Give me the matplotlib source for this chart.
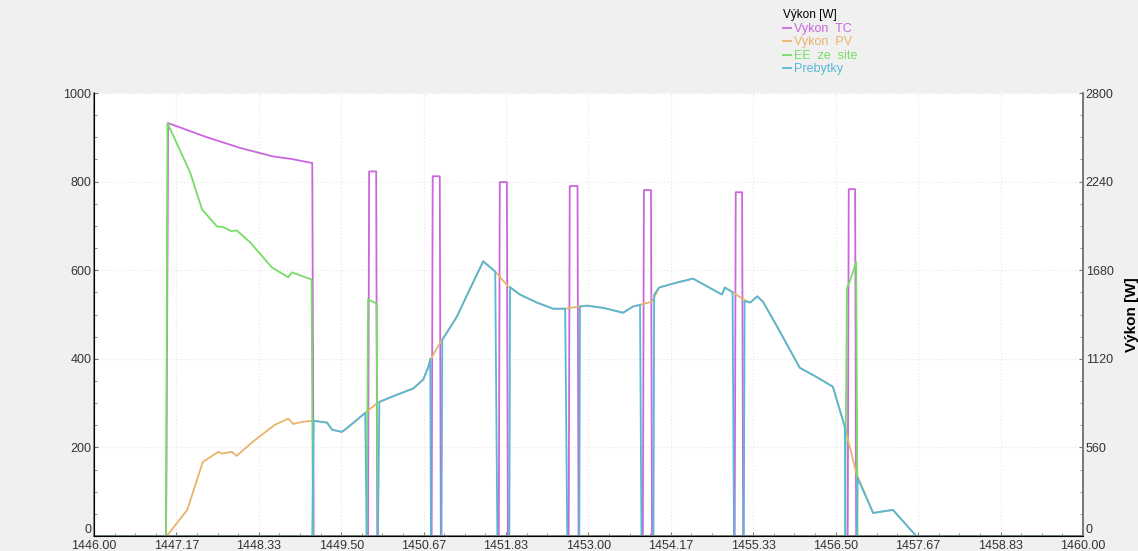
import numpy as np
import matplotlib.pyplot as plt
from matplotlib.ticker import AutoMinorLocator

plt.rcParams['font.family'] = ['Liberation Sans', 'DejaVu Sans']

# Vykon TC - souvisly chod na zacatku
tc_t = [1446.00, 1447.02, 1447.05, 1447.60, 1448.07, 1448.53, 1448.80, 1449.09, 1449.11]
tc_v = [0, 0, 932, 900, 876, 857, 851, 842, 0]
# kratke pulzy TC (zapnuti, vypnuti, vykon)
pulse_on = [1449.88, 1450.78, 1451.73, 1452.72, 1453.77, 1455.07, 1456.67]
pulse_off = [1450.01, 1450.91, 1451.86, 1452.86, 1453.90, 1455.19, 1456.79]
pulse_peak = [823, 812, 799, 790, 781, 776, 783]

# Vykon PV
pv_t = [1446.00, 1447.03, 1447.32, 1447.54, 1447.76, 1447.81, 1447.95, 1448.02, 1448.25,
        1448.56, 1448.75, 1448.82, 1448.96, 1449.10, 1449.30, 1449.37, 1449.51, 1449.60,
        1449.84, 1450.01, 1450.05, 1450.29, 1450.52, 1450.66, 1450.73, 1450.78, 1450.91,
        1451.14, 1451.32, 1451.51, 1451.68, 1451.86, 1452.03, 1452.27, 1452.50, 1452.67,
        1452.86, 1452.98, 1453.21, 1453.49, 1453.63, 1453.73, 1453.90, 1454.00, 1454.25,
        1454.48, 1454.89, 1454.93, 1455.05, 1455.19, 1455.29, 1455.39, 1455.47, 1455.67,
        1455.99, 1456.25, 1456.46, 1456.63, 1456.79, 1456.82, 1457.03, 1457.31, 1457.64, 1460.00]
pv_v = [0, 0, 59, 167, 190, 186, 190, 181, 213,
        251, 265, 253, 258, 260, 256, 240, 235, 246,
        278, 300, 303, 319, 333, 353, 380, 403, 439,
        496, 557, 620, 597, 564, 545, 527, 513, 513,
        518, 520, 515, 504, 518, 522, 529, 561, 572,
        581, 545, 561, 550, 534, 527, 541, 529, 473,
        380, 357, 337, 246, 143, 131, 52, 59, 0, 0]

# EE ze site
ee_t = [1446.00, 1447.02, 1447.04, 1447.36, 1447.53, 1447.74, 1447.83, 1447.95, 1448.02,
        1448.21, 1448.52, 1448.75, 1448.80, 1449.08, 1449.10, 1449.86, 1449.88, 1450.00,
        1450.02, 1456.63, 1456.66, 1456.70, 1456.79, 1456.81, 1460.00]
ee_v = [0, 0, 932, 821, 737, 699, 697, 688, 690,
        663, 606, 584, 595, 579, 0, 0, 534, 525,
        0, 0, 560, 575, 618, 0, 0]

# Prebytky
pr_t = [1446.00, 1449.09, 1449.11, 1449.30, 1449.37, 1449.51, 1449.60, 1449.84, 1449.86,
        1450.02, 1450.04, 1450.29, 1450.52, 1450.66, 1450.73, 1450.76, 1450.77, 1450.92,
        1450.93, 1451.14, 1451.32, 1451.51, 1451.68, 1451.71, 1451.88, 1451.89, 1452.03,
        1452.27, 1452.50, 1452.67, 1452.70, 1452.87, 1452.88, 1452.98, 1453.21, 1453.49,
        1453.63, 1453.73, 1453.75, 1453.92, 1453.93, 1454.00, 1454.25, 1454.48, 1454.89,
        1454.93, 1455.04, 1455.06, 1455.20, 1455.21, 1455.29, 1455.39, 1455.47, 1455.67,
        1455.99, 1456.25, 1456.46, 1456.63, 1456.64, 1456.80, 1456.81, 1457.03, 1457.31,
        1457.64, 1460.00]
pr_v = [0, 0, 260, 256, 240, 235, 246, 278, 0,
        0, 303, 319, 333, 353, 380, 400, 0, 0,
        442, 496, 557, 620, 597, 0, 0, 562, 545,
        527, 513, 513, 0, 0, 518, 520, 515, 504,
        518, 522, 0, 0, 545, 561, 572, 581, 545,
        561, 550, 0, 0, 530, 527, 541, 529, 473,
        380, 357, 337, 246, 0, 0, 131, 52, 59,
        0, 0]

x_ticks = np.linspace(1446, 1460, 13)

# sestaveni krivky TC s pulzy
tc_x = list(tc_t)
tc_y = list(tc_v)
for on, off, p in zip(pulse_on, pulse_off, pulse_peak):
    tc_x += [on, on + 0.015, off - 0.015, off]
    tc_y += [0, p, p, 0]
tc_x.append(1460.0)
tc_y.append(0)

fig = plt.figure(figsize=(11.38, 5.51), dpi=100, facecolor='#f0f0f0')
ax = fig.add_axes([0.0826, 0.0272, 0.869, 0.804])
ax.set_facecolor('white')

c_tc = '#cc66dd'
c_pv = '#e8b46a'
c_ee = '#77dd66'
c_pr = '#55b8d8'

l1, = ax.plot(tc_x, tc_y, color=c_tc, lw=1.3, label='Vykon  TC')
l2, = ax.plot(pv_t, pv_v, color=c_pv, lw=1.3, label='Vykon  PV')
l3, = ax.plot(ee_t, ee_v, color=c_ee, lw=1.3, label='EE  ze  site')
l4, = ax.plot(pr_t, pr_v, color=c_pr, lw=1.3, label='Prebytky')

ax.set_xlim(1446, 1460)
ax.set_ylim(0, 1000)
ax.set_xticks(x_ticks)
ax.set_xticklabels([f'{v:.2f}' for v in x_ticks])
ax.set_yticks([0, 200, 400, 600, 800, 1000])
ax.xaxis.set_minor_locator(AutoMinorLocator(4))
ax.yaxis.set_minor_locator(AutoMinorLocator(4))
ax.grid(True, which='major', color='#e8e8e8', ls=':', lw=0.9)
ax.tick_params(which='both', direction='in', labelsize=9, labelcolor='#333333', color='#777777')
ax.tick_params(which='major', length=3, pad=2)
ax.tick_params(which='minor', length=2)
ax.tick_params(axis='x', which='major', pad=3)
ax.spines['top'].set_visible(False)
for s in ['left', 'right', 'bottom']:
    ax.spines[s].set_color('#777777')
    ax.spines[s].set_linewidth(1.2)

ax2 = ax.twinx()
ax2.set_ylim(0, 2800)
ax2.set_yticks([0, 560, 1120, 1680, 2240, 2800])
ax2.yaxis.set_minor_locator(AutoMinorLocator(4))
ax2.tick_params(which='both', direction='in', labelsize=9, labelcolor='#333333', color='#777777')
ax2.tick_params(which='major', length=3, pad=2)
ax2.tick_params(which='minor', length=2)
ax2.spines['top'].set_visible(False)
ax2.spines['right'].set_color('#777777')
ax2.spines['right'].set_linewidth(1.2)
ax2.set_ylabel('Výkon [W]', fontsize=11, fontweight='bold', labelpad=8)

# nula na osach y sedi tesne nad osou x
ax.get_yticklabels()[0].set_verticalalignment('bottom')
ax2.get_yticklabels()[0].set_verticalalignment('bottom')

leg = fig.legend(handles=[l1, l2, l3, l4], title='Výkon [W]', loc='upper left',
                 bbox_to_anchor=(0.680, 1.0), frameon=False, fontsize=9, title_fontsize=8.5,
                 handlelength=0.6, handletextpad=0.3, labelspacing=0.12, borderpad=0.25)
leg._legend_box.align = 'left'
for txt, c in zip(leg.get_texts(), [c_tc, c_pv, c_ee, c_pr]):
    txt.set_color(c)

fig.savefig('out.png', dpi=100, facecolor=fig.get_facecolor())
